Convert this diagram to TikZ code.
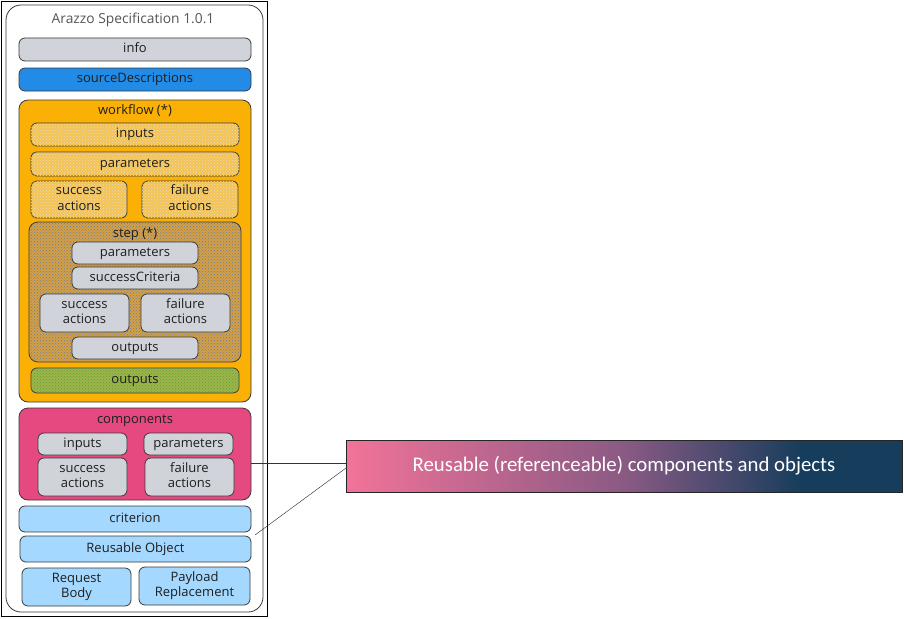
\documentclass[tikz,border=0pt]{standalone}
\usepackage{fontspec}
\setmainfont{Open Sans}
\newfontfamily\callfont{Carlito}
\usetikzlibrary{patterns,calc}
\definecolor{linec}{HTML}{3A3A3A}
\definecolor{textc}{HTML}{1E1E1E}
\definecolor{titlec}{HTML}{555555}
\definecolor{grayc}{HTML}{D0D4DA}
\definecolor{bluec}{HTML}{228BE6}
\definecolor{orangec}{HTML}{FAB005}
\definecolor{lorangec}{HTML}{F4C354}
\definecolor{steporange}{HTML}{D39F45}
\definecolor{stepdots}{HTML}{6E7FA0}
\definecolor{lightdots}{HTML}{E6DCC8}
\definecolor{greenc}{HTML}{9DB548}
\definecolor{greendots}{HTML}{5E9E3E}
\definecolor{pinkc}{HTML}{E64980}
\definecolor{lbluec}{HTML}{A5D8FF}
\definecolor{cpink}{HTML}{F27399}
\definecolor{cmid}{HTML}{8A5A84}
\definecolor{cnavy}{HTML}{163D5C}
\pgfdeclarehorizontalshading{calloutshade}{100bp}{color(0bp)=(cpink); color(25bp)=(cpink); color(50bp)=(cmid); color(66bp)=(cnavy); color(100bp)=(cnavy)}
% style, x1, y1, x2, y2, name, text
\newcommand\bxt[7]{%
  \pgfmathsetmacro\bxcx{(#2+#4)/2}%
  \pgfmathsetmacro\bxcy{(#3+#5)/2}%
  \pgfmathsetmacro\bxw{#4-#2}%
  \pgfmathsetmacro\bxh{#5-#3}%
  \node[#1, minimum width=\bxw pt, minimum height=\bxh pt] (#6) at (\bxcx,\bxcy) {#7};}
\newcommand\tl[2]{\strut #1\\\strut #2}
\begin{document}
\begin{tikzpicture}[x=1pt,y=-1pt,
  box/.style={draw=linec, line width=0.8pt, rounded corners=6pt, inner sep=0pt, outer sep=0pt,
    font=\fontsize{13}{15.5}\selectfont, align=center, text=textc},
  graybox/.style={box, fill=grayc},
  bluebox/.style={box, fill=bluec},
  orangebox/.style={box, fill=orangec, rounded corners=9pt},
  hatchbox/.style={box, fill=lorangec, postaction={pattern=crosshatch dots, pattern color=lightdots}},
  stepbox/.style={box, fill=steporange, postaction={pattern=crosshatch dots, pattern color=stepdots}, rounded corners=9pt},
  greenbox/.style={box, fill=greenc, postaction={pattern=crosshatch dots, pattern color=greendots}},
  pinkbox/.style={box, fill=pinkc, rounded corners=9pt},
  lbluebox/.style={box, fill=lbluec},
  outerframe/.style={draw=black, line width=0.7pt, inner sep=0pt, outer sep=0pt},
  roundframe/.style={draw=linec, line width=0.8pt, fill=white, rounded corners=15pt, inner sep=0pt, outer sep=0pt},
  lbl/.style={font=\fontsize{13}{15.5}\selectfont, text=textc, inner sep=0pt},
  callout/.style={draw=black!85, line width=0.9pt, shading=calloutshade, inner sep=0pt, outer sep=0pt,
    font=\callfont\fontsize{20.8}{24}\selectfont, text=white},
  conn/.style={draw=black!80, line width=1pt},
  thinconn/.style={draw=black!80, line width=0.45pt}
]
\useasboundingbox (0,0) rectangle (904,618);
% frames
\bxt{outerframe}{1}{1}{267}{616}{outer}{}
\bxt{roundframe}{6}{5}{263}{612}{frame}{}
\node[lbl, text=titlec, font=\fontsize{13.8}{16}\selectfont] (title) at (133,20) {Arazzo Specification 1.0.1};
% top
\bxt{graybox}{19}{38}{251}{61}{info}{\strut info}
\bxt{bluebox}{19}{68}{251}{91}{src}{\strut sourceDescriptions}
% workflow
\bxt{orangebox}{19}{100}{251}{402}{wf}{}
\node[lbl] (wflbl) at (135,111) {\strut workflow (*)};
\bxt{hatchbox}{31}{123}{239}{146}{wfin}{\strut inputs}
\bxt{hatchbox}{31}{152}{239}{176}{wfpar}{\strut parameters}
\bxt{hatchbox}{31}{181}{127}{218}{wfsucc}{\tl{success}{actions}}
\bxt{hatchbox}{142}{181}{238}{218}{wffail}{\tl{failure}{actions}}
\bxt{stepbox}{29}{222}{241}{362}{step}{}
\node[lbl] (steplbl) at (135,234) {\strut step (*)};
\bxt{graybox}{72}{242}{198}{264}{stpar}{\strut parameters}
\bxt{graybox}{72}{267}{198}{289}{stcrit}{\strut successCriteria}
\bxt{graybox}{40}{294}{129}{332}{stsucc}{\tl{success}{actions}}
\bxt{graybox}{141}{294}{230}{332}{stfail}{\tl{failure}{actions}}
\bxt{graybox}{72}{337}{198}{359}{stout}{\strut outputs}
\bxt{greenbox}{31}{368}{239}{393}{wfout}{\strut outputs}
% components
\bxt{pinkbox}{19}{408}{251}{500}{comp}{}
\node[lbl] (complbl) at (135,420) {\strut components};
\bxt{graybox}{38}{433}{127}{455}{cin}{\strut inputs}
\bxt{graybox}{144}{433}{233}{455}{cpar}{\strut parameters}
\bxt{graybox}{38}{458}{127}{496}{csucc}{\tl{success}{actions}}
\bxt{graybox}{145}{458}{234}{496}{cfail}{\tl{failure}{actions}}
% reusable
\bxt{lbluebox}{19}{506}{251}{532}{crit}{\strut criterion}
\bxt{lbluebox}{20}{536}{251}{562}{reuse}{\strut Reusable Object}
\bxt{lbluebox}{22}{568}{131}{606}{req}{\tl{Request}{Body}}
\bxt{lbluebox}{139}{567}{250}{605}{pay}{\tl{Payload}{Replacement}}
% callout
\bxt{callout}{346}{440}{902}{492}{call}{Reusable (referenceable) components and objects}
% connectors
\coordinate (hy) at (0,463);
\coordinate (dstart) at (255,535);
\coordinate (dend) at (346,468);
\draw[conn] (comp.east |- hy) -- (call.west |- hy);
\draw[thinconn] (dstart) -- (call.west |- dend);
\end{tikzpicture}
\end{document}
